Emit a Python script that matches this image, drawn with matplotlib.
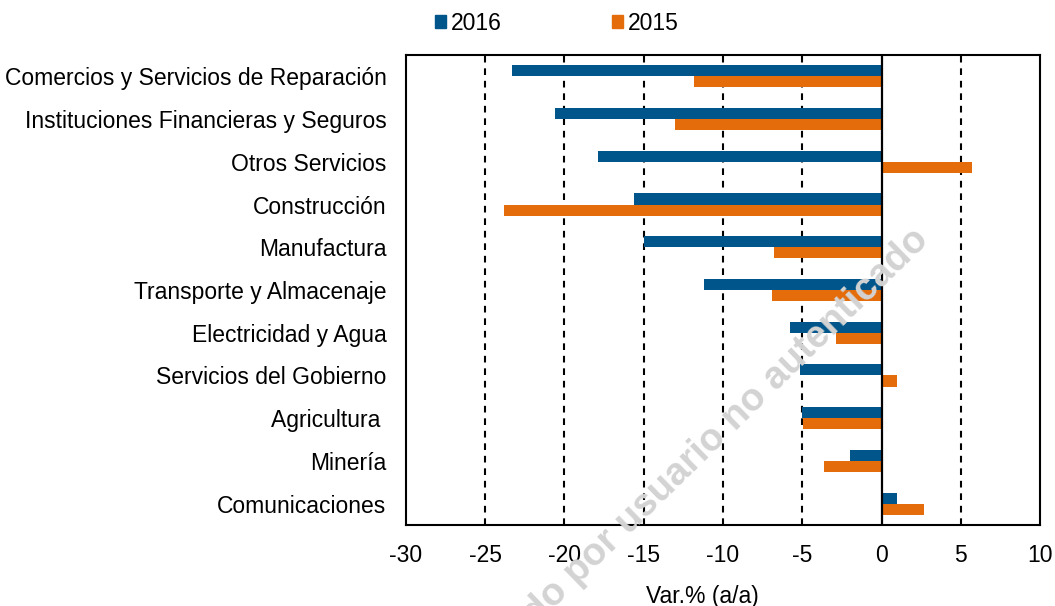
import numpy as np
import matplotlib
matplotlib.use('Agg')
import matplotlib.pyplot as plt
from matplotlib.patches import Patch

plt.rcParams['font.family'] = ['Liberation Sans', 'DejaVu Sans']
plt.rcParams['axes.unicode_minus'] = False

# data (top to bottom)
sectors = ['Comercios y Servicios de Reparación',
           'Instituciones Financieras y Seguros',
           'Otros Servicios',
           'Construcción',
           'Manufactura',
           'Transporte y Almacenaje',
           'Electricidad y Agua',
           'Servicios del Gobierno',
           'Agricultura ',
           'Minería',
           'Comunicaciones']
var_2016 = [-23.3, -20.6, -17.9, -15.6, -15.0, -11.2, -5.8, -5.15, -5.0, -2.0, 1.0]
var_2015 = [-11.8, -13.0, 5.7, -23.8, -6.8, -6.9, -2.9, 1.0, -4.95, -3.6, 2.7]

blue = '#00558b'
orange = '#e46c0a'
fs = 16.5

fig = plt.figure(figsize=(10.55, 6.06), dpi=100)
ax = fig.add_axes([0.3848, 0.1337, 0.601, 0.7756])

# watermark
fig.text(0.882, 0.602, 'Documento consultado por usuario no autenticado',
         rotation=44.3, rotation_mode='anchor', ha='right', va='baseline',
         fontsize=27.5, fontweight='heavy', color='#d3d3d3', zorder=0)
ax.set_facecolor('none')

y = np.arange(len(sectors))
h = 0.26
ax.barh(y - h / 2, var_2016, height=h, color=blue, zorder=3, label='2016')
ax.barh(y + h / 2, var_2015, height=h, color=orange, zorder=3, label='2015')

ax.set_xlim(-30, 10)
ax.set_ylim(len(sectors) - 0.5, -0.5)
ax.set_xticks(np.arange(-30, 11, 5))
ax.set_yticks(y)
ax.set_yticklabels(sectors)

for g in [-25, -20, -15, -10, -5, 5]:
    ax.axvline(g, color='black', lw=1.5, ls=(0, (3.2, 2.8)), zorder=2)
ax.axvline(0, color='black', lw=1.6, zorder=4)

for s in ax.spines.values():
    s.set_linewidth(1.5)
    s.set_color('black')

ax.tick_params(axis='both', length=0, labelsize=fs)
ax.tick_params(axis='x', pad=14)
ax.tick_params(axis='y', pad=14)
ax.set_xlabel('Var.% (a/a)', fontsize=fs, labelpad=13)
ax.xaxis.set_label_coords(0.467, -0.127)

handles = [Patch(color=blue), Patch(color=orange)]
fig.legend(handles, ['2016', '2015'], ncol=2, loc='center left',
           bbox_to_anchor=(0.412, 0.962), frameon=False, fontsize=fs,
           handlelength=0.5, handleheight=0.5, handletextpad=0.2,
           columnspacing=4.8, borderpad=0, borderaxespad=0)

fig.savefig('out.png', dpi=100)
